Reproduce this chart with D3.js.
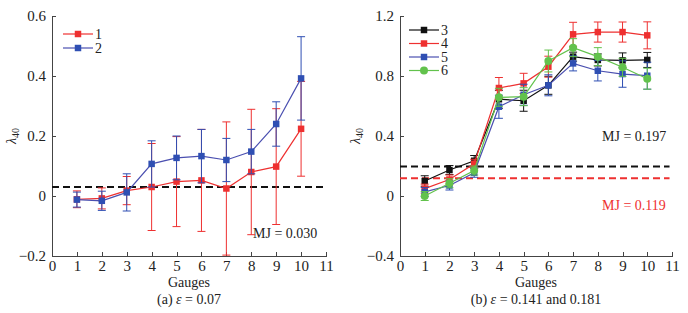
<!DOCTYPE html>
<html lang="en">
<head>
  <meta charset="UTF-8">
  <title>lambda40 by gauge</title>
  <script src="https://d3js.org/d3.v7.min.js"></script>
  <style>
    body { margin: 0; background: #fff; }
    text { font-family: "Liberation Serif", "DejaVu Serif", serif; fill: #222; }
    .axis path, .axis line { fill: none; stroke: #444; stroke-width: 1px; shape-rendering: crispEdges; }
    .axis text { font-size: 15px; }
    .line { fill: none; stroke-width: 1.2px; }
    .err { stroke-width: 1px; fill: none; }
  </style>
</head>
<body>
  <svg width="688" height="313"></svg>
  <script>
    // ---- data ----
    var gauges = [1, 2, 3, 4, 5, 6, 7, 8, 9, 10];
    var xTicks = [0, 1, 2, 3, 4, 5, 6, 7, 8, 9, 10, 11];

    // panel (a)
    var s1 = [-0.011, -0.008, 0.018, 0.030, 0.048, 0.052, 0.025, 0.080, 0.098, 0.224];
    var e1 = [0.028, 0.035, 0.047, 0.145, 0.150, 0.170, 0.222, 0.209, 0.193, 0.158];
    var s2 = [-0.012, -0.016, 0.012, 0.107, 0.127, 0.133, 0.120, 0.148, 0.240, 0.392];
    var e2 = [0.025, 0.032, 0.062, 0.077, 0.073, 0.089, 0.072, 0.074, 0.074, 0.139];
    var mjA = 0.030;
    var yTicksA = [-0.2, 0, 0.2, 0.4, 0.6];

    // panel (b)
    var s3 = [0.100, 0.173, 0.235, 0.645, 0.635, 0.738, 0.929, 0.907, 0.904, 0.907];
    var e3 = [0.035, 0.030, 0.035, 0.060, 0.070, 0.060, 0.030, 0.040, 0.050, 0.050];
    var s4 = [0.049, 0.110, 0.215, 0.720, 0.751, 0.862, 1.078, 1.093, 1.093, 1.071];
    var e4 = [0.030, 0.030, 0.030, 0.070, 0.067, 0.070, 0.080, 0.067, 0.067, 0.090];
    var s5 = [0.027, 0.070, 0.155, 0.595, 0.675, 0.738, 0.884, 0.835, 0.813, 0.802];
    var e5 = [0.030, 0.030, 0.030, 0.077, 0.070, 0.070, 0.050, 0.068, 0.088, 0.090];
    var s6 = [0.000, 0.085, 0.170, 0.658, 0.662, 0.900, 0.989, 0.929, 0.858, 0.782];
    var e6 = [0.030, 0.030, 0.030, 0.060, 0.060, 0.073, 0.060, 0.060, 0.060, 0.070];
    var mjB1 = 0.197, mjB2 = 0.119;
    var yTicksB = [-0.4, 0, 0.4, 0.8, 1.2];

    var RED = "#ee3030", BLUE = "#2f4fb3", BLACK = "#111", GREEN = "#62c24c";

    var svg = d3.select("svg");

    function fmt(v) {
      if (v === 0) return "0";
      return (v < 0 ? "\u2212" : "") + Math.abs(v).toFixed(1);
    }

    function panel(opt) {
      var x = d3.scaleLinear().domain([0, 11]).range(opt.xr);
      var y = d3.scaleLinear().domain(opt.yd).range([256, 16]);
      var g = svg.append("g");

      g.append("g")
       .attr("class", "axis")
       .attr("transform", "translate(0,256)")
       .call(d3.axisBottom(x).tickValues(xTicks).tickFormat(d3.format("d")).tickSizeInner(-4).tickSizeOuter(0).tickPadding(4));
      g.append("g")
       .attr("class", "axis")
       .attr("transform", "translate(" + opt.xr[0] + ",0)")
       .call(d3.axisLeft(y).tickValues(opt.yTicks).tickFormat(fmt).tickSizeInner(-4).tickSizeOuter(0).tickPadding(6));

      // reference lines
      opt.refs.forEach(function(r) {
        g.append("line")
         .attr("x1", x(0)).attr("x2", x(10.9))
         .attr("y1", y(r.v)).attr("y2", y(r.v))
         .attr("stroke", r.color).attr("stroke-width", 2)
         .attr("stroke-dasharray", "7,4");
        g.append("text")
         .attr("x", r.lx).attr("y", r.ly)
         .style("font-size", "14px")
         .style("fill", r.color === BLACK ? "#222" : r.color)
         .text("MJ = " + r.v.toFixed(3));
      });

      opt.series.forEach(function(s) {
        var pts = gauges.map(function(gg, i) { return {g: gg, v: s.v[i], e: s.e[i]}; });
        var sg = g.append("g");
        // error bars
        var eb = sg.selectAll(".eb").data(pts).enter().append("g").attr("class", "err").attr("stroke", s.color);
        eb.append("line")
          .attr("x1", function(d) { return x(d.g); }).attr("x2", function(d) { return x(d.g); })
          .attr("y1", function(d) { return y(d.v - d.e); }).attr("y2", function(d) { return y(d.v + d.e); });
        eb.append("line")
          .attr("x1", function(d) { return x(d.g) - 4; }).attr("x2", function(d) { return x(d.g) + 4; })
          .attr("y1", function(d) { return y(d.v + d.e); }).attr("y2", function(d) { return y(d.v + d.e); });
        eb.append("line")
          .attr("x1", function(d) { return x(d.g) - 4; }).attr("x2", function(d) { return x(d.g) + 4; })
          .attr("y1", function(d) { return y(d.v - d.e); }).attr("y2", function(d) { return y(d.v - d.e); });
        sg.append("path")
          .datum(pts)
          .attr("class", "line")
          .attr("stroke", s.line || s.color)
          .attr("d", d3.line().x(function(d) { return x(d.g); }).y(function(d) { return y(d.v); }));
        sg.selectAll(".mk").data(pts).enter().append("path")
          .attr("transform", function(d) { return "translate(" + x(d.g) + "," + y(d.v) + ")"; })
          .attr("d", d3.symbol().type(s.circle ? d3.symbolCircle : d3.symbolSquare).size(s.circle ? 50 : 42))
          .attr("fill", s.color);
      });

      // legend
      opt.series.forEach(function(s, i) {
        var ly = opt.legY + i * opt.legStep;
        g.append("line")
         .attr("x1", opt.legX).attr("x2", opt.legX + 30)
         .attr("y1", ly).attr("y2", ly)
         .attr("stroke", s.line || s.color).attr("stroke-width", 1.2);
        g.append("path")
         .attr("transform", "translate(" + (opt.legX + 15) + "," + ly + ")")
         .attr("d", d3.symbol().type(s.circle ? d3.symbolCircle : d3.symbolSquare).size(s.circle ? 50 : 42))
         .attr("fill", s.color);
        g.append("text")
         .attr("x", opt.legX + 32).attr("y", ly + 4.5)
         .style("font-size", "14px")
         .text(s.name);
      });

      var cx = (x(0) + x(11)) / 2;
      g.append("text").attr("x", cx).attr("y", 287).attr("text-anchor", "middle")
       .style("font-size", "14px").text("Gauges");
      var cap = g.append("text").attr("x", cx).attr("y", 304).attr("text-anchor", "middle").style("font-size", "14px");
      cap.append("tspan").text(opt.capA);
      cap.append("tspan").style("font-style", "italic").text("\u03b5");
      cap.append("tspan").text(opt.capB);

      var yl = g.append("text")
       .attr("transform", "translate(" + opt.ylx + ",136) rotate(-90)")
       .attr("text-anchor", "middle").style("font-size", "14px");
      yl.append("tspan").style("font-style", "italic").text("\u03bb");
      yl.append("tspan").attr("dy", 3).style("font-size", "10px").text("40");
    }

    panel({
      xr: [52, 326], yd: [-0.2, 0.6], yTicks: yTicksA,
      series: [
        {name: "1", v: s1, e: e1, color: RED},
        {name: "2", v: s2, e: e2, color: BLUE, line: "#4a4fb0"}
      ],
      refs: [{v: mjA, color: BLACK, lx: 253, ly: 238}],
      legX: 63, legY: 34, legStep: 14,
      capA: "(a) ", capB: " = 0.07", ylx: 16
    });

    panel({
      xr: [400, 672], yd: [-0.4, 1.2], yTicks: yTicksB,
      series: [
        {name: "3", v: s3, e: e3, color: BLACK},
        {name: "4", v: s4, e: e4, color: RED},
        {name: "5", v: s5, e: e5, color: BLUE, line: "#4a4fb0"},
        {name: "6", v: s6, e: e6, color: GREEN, circle: true}
      ],
      refs: [{v: mjB1, color: BLACK, lx: 602, ly: 141}, {v: mjB2, color: RED, lx: 602, ly: 210}],
      legX: 409, legY: 30, legStep: 13.5,
      capA: "(b) ", capB: " = 0.141 and 0.181", ylx: 360
    });
  </script>
</body>
</html>
